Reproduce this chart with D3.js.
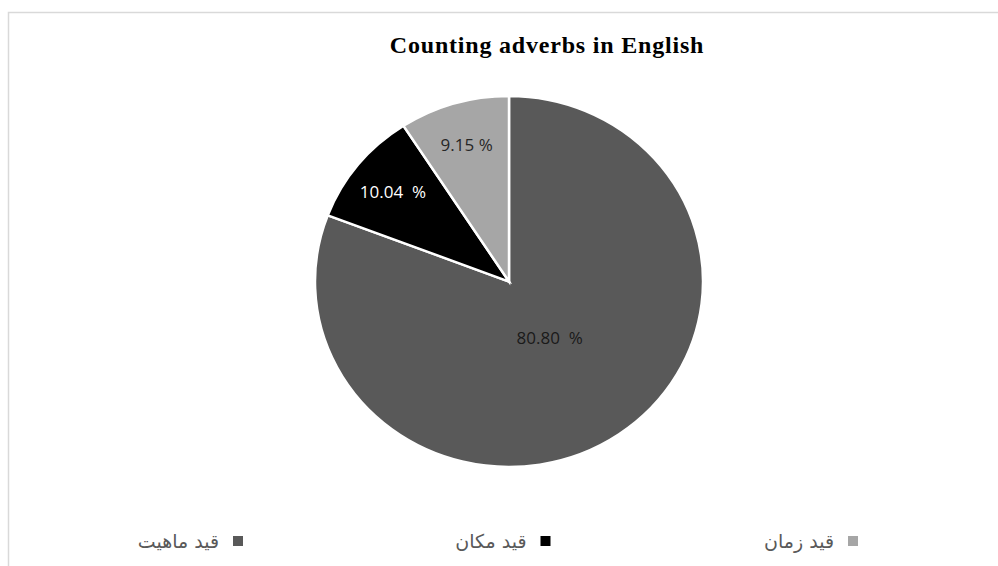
<!DOCTYPE html>
<html>
<head>
<meta charset="utf-8">
<script src="https://cdn.jsdelivr.net/npm/d3@7"></script>
<style>
  html, body { margin: 0; padding: 0; background: #fff; }
  #chart { width: 998px; height: 566px; }
</style>
</head>
<body>
<div id="chart"></div>
<script>
// Chart data
const title = "Counting adverbs in English";
const categories = ["قيد ماهيت", "قيد مکان", "قيد زمان"];
const values = [80.80, 10.04, 9.15];
const labels = ["80.80  %", "10.04  %", "9.15 %"];
const colors = ["#595959", "#000000", "#a6a6a6"];
const labelColors = ["#1a1a1a", "#ffffff", "#262626"];

const width = 998;
const height = 566;

const svg = d3.select("#chart")
  .append("svg")
  .attr("width", width)
  .attr("height", height);

// light frame of the chart area
svg.append("rect")
  .attr("x", 8.5)
  .attr("y", 12.5)
  .attr("width", 1100)
  .attr("height", 700)
  .attr("fill", "none")
  .attr("stroke", "#d9d9d9")
  .attr("stroke-width", 1.5);

// title
svg.append("text")
  .attr("x", 547)
  .attr("y", 53)
  .attr("text-anchor", "middle")
  .attr("font-family", "Liberation Serif, serif")
  .attr("font-weight", "bold")
  .attr("font-size", 24)
  .attr("letter-spacing", 0.8)
  .attr("fill", "#000")
  .text(title);

// pie (picture is slightly squashed vertically)
const radius = 194;
const g = svg.append("g")
  .attr("transform", "translate(509,281.5) scale(1,0.956)");

const pie = d3.pie().sort(null).value(d => d);
const arcs = pie(values);

const arc = d3.arc().innerRadius(0).outerRadius(radius);

g.selectAll("path")
  .data(arcs)
  .enter()
  .append("path")
  .attr("d", arc)
  .attr("fill", (d, i) => colors[i])
  .attr("stroke", "#fff")
  .attr("stroke-width", 2.5);

// data labels
const labelArc = d => {
  const r = (d.endAngle - d.startAngle) > Math.PI ? radius * 0.37 : radius * 0.77;
  return d3.arc().innerRadius(r).outerRadius(r).centroid(d);
};

g.selectAll("text.lbl")
  .data(arcs)
  .enter()
  .append("text")
  .attr("class", "lbl")
  .attr("transform", d => {
    const c = labelArc(d);
    return `translate(${c[0]},${c[1]}) scale(1,${1 / 0.956})`;
  })
  .attr("text-anchor", "middle")
  .attr("dy", "0.35em")
  .attr("font-family", "'Open Sans', sans-serif")
  .attr("font-size", 17)
  .attr("fill", (d, i) => labelColors[i])
  .style("white-space", "pre")
  .text((d, i) => labels[i]);

// legend (right-to-left items: marker on the right of the text)
const legendX = d3.scalePoint()
  .domain(categories)
  .range([243, 858]);

const legend = svg.selectAll("g.legend")
  .data(categories)
  .enter()
  .append("g")
  .attr("class", "legend")
  .attr("transform", d => `translate(${legendX(d)},541)`);

legend.append("rect")
  .attr("x", -10)
  .attr("y", -5)
  .attr("width", 10)
  .attr("height", 10)
  .attr("fill", (d, i) => colors[i]);

legend.append("text")
  .attr("x", -24)
  .attr("dy", "0.35em")
  .attr("text-anchor", "end")
  .attr("font-family", "DejaVu Sans, sans-serif")
  .attr("font-size", 19)
  .attr("fill", "#595959")
  .text(d => d);
</script>
</body>
</html>
